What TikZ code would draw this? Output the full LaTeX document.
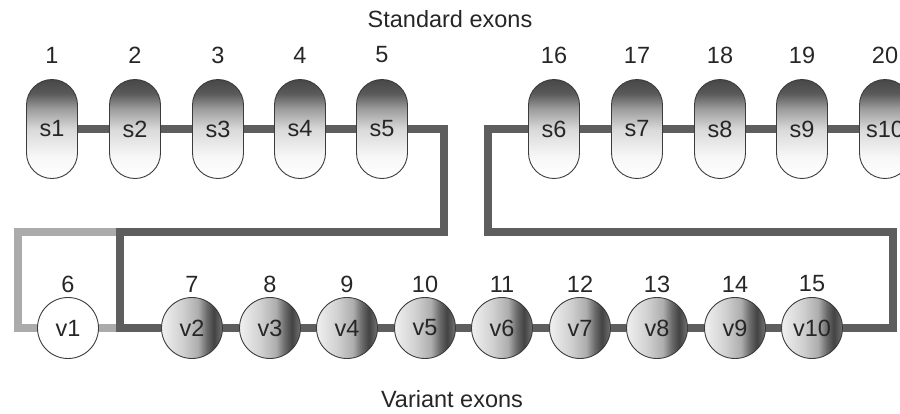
\documentclass[tikz,border=0pt]{standalone}
\usepackage{fontspec}
\setmainfont{Liberation Sans}
\usetikzlibrary{calc,backgrounds}
\definecolor{linedark}{HTML}{5E5E5E}
\definecolor{linelight}{HTML}{ABABAB}
\definecolor{edgec}{HTML}{3C3C3C}
\definecolor{textc}{HTML}{262626}
\pgfdeclareverticalshading{pillshade}{100bp}{color(0bp)=(white); color(25bp)=(white); color(36bp)=(black!3); color(50bp)=(black!15); color(60bp)=(black!38); color(68bp)=(black!65); color(75bp)=(black!72); color(100bp)=(black!72)}
\pgfdeclarehorizontalshading{ballshade}{100bp}{color(0bp)=(black!6); color(25bp)=(black!6); color(42bp)=(black!18); color(55bp)=(black!32); color(62bp)=(black!58); color(68bp)=(black!74); color(75bp)=(black!55); color(100bp)=(black!55)}
\tikzset{
  pill/.style={rectangle, rounded corners=25.5pt, minimum width=51pt, minimum height=99pt, inner sep=0pt, draw=edgec, line width=0.9pt, shading=pillshade, text=textc},
  ball/.style={circle, minimum size=61pt, inner sep=0pt, draw=edgec, line width=0.9pt, shading=ballshade, text=textc},
  ballw/.style={circle, minimum size=61pt, inner sep=0pt, draw=edgec, line width=0.9pt, fill=white, text=textc},
  lbl/.style={inner sep=0pt, text=textc},
  link/.style={draw=linedark, line width=8pt},
  linkl/.style={draw=linelight, line width=8pt},
}
\begin{document}
\begin{tikzpicture}[x=1pt,y=-1pt, font=\fontsize{23.5}{27}\selectfont]
\useasboundingbox (0,0) rectangle (900,413);
% titles
\node[lbl] (tstd) at (450,19) {Standard exons};
\node[lbl] (tvar) at (452,399) {Variant exons};
% standard exons
\foreach \i/\x/\n in {1/52/1,2/135/2,3/218/3,4/300/4,5/382/5,6/554/16,7/637/17,8/720/18,9/802/19,10/885/20}{
  \node[pill] (s\i) at (\x,129) {s\i};
  \node[lbl] (ns\i) at (\x,55) {\n};
}
% variant exons
\node[ballw] (v1) at (68,328) {v1};
\node[lbl] (nv1) at (68,284) {6};
\foreach \i/\x/\n in {2/192/7,3/270/8,4/347/9,5/425/10,6/502/11,7/580/12,8/657/13,9/735/14,10/812/15}{
  \node[ball] (v\i) at (\x,328) {v\i};
  \node[lbl] (nv\i) at (\x,284) {\n};
}
% corner coordinates
\coordinate (a1) at (444,129);
\coordinate (a2) at (444,232);
\coordinate (a3) at (120,232);
\coordinate (a4) at (120,328);
\coordinate (b1) at (488,129);
\coordinate (b2) at (488,232);
\coordinate (b3) at (893,232);
\coordinate (b4) at (893,328);
\coordinate (c1) at (18,328);
\coordinate (c2) at (18,232);
\begin{pgfonlayer}{background}
  % light gray alternative path
  \draw[linkl] (v1.west) -- (c1) -- (c2) -- (a3);
  \draw[linkl] (v1.east) -- (a4);
  % dark paths
  \draw[link] (s5.east) -- (a1) -- (a2) -- (a3) -- (a4) -- (v2.west);
  \draw[link] (s6.west) -- (b1) -- (b2) -- (b3) -- (b4) -- (v10.east);
  \foreach \i [evaluate=\i as \j using int(\i+1)] in {1,2,3,4,6,7,8,9}{
    \draw[link] (s\i) -- (s\j);
  }
  \foreach \i [evaluate=\i as \j using int(\i+1)] in {2,...,9}{
    \draw[link] (v\i) -- (v\j);
  }
\end{pgfonlayer}
\end{tikzpicture}
\end{document}
